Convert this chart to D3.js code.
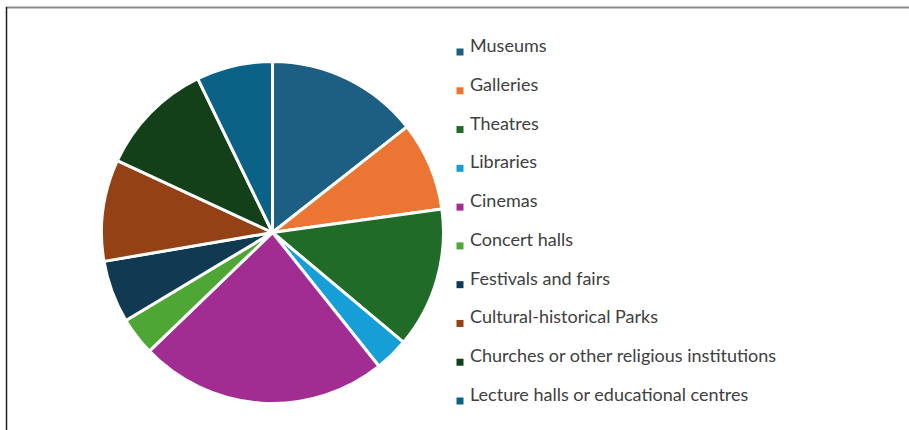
<!DOCTYPE html>
<html>
<head>
<meta charset="utf-8">
<script src="https://cdn.jsdelivr.net/npm/d3@7"></script>
<style>
  html, body { margin: 0; padding: 0; background: #fff; }
  svg { display: block; }
</style>
</head>
<body>
<svg id="chart" width="909" height="430"></svg>
<script>
// Share of visits by type of cultural venue (%)
const categories = [
  "Museums",
  "Galleries",
  "Theatres",
  "Libraries",
  "Cinemas",
  "Concert halls",
  "Festivals and fairs",
  "Cultural-historical Parks",
  "Churches or other religious institutions",
  "Lecture halls or educational centres"
];
const shares = [14.4, 8.4, 13.3, 3.2, 23.5, 3.6, 5.9, 9.6, 10.9, 7.2];
const palette = [
  "#1c5f83", "#ec7533", "#1f6b27", "#169fd7", "#a12d93",
  "#4ea734", "#0f3a51", "#934115", "#133f19", "#0a6286"
];

const svg = d3.select("#chart");

// frame: grey top rule, dark left rule
svg.append("line")
  .attr("x1", 6).attr("x2", 909).attr("y1", 7.5).attr("y2", 7.5)
  .attr("stroke", "#8c8c8c").attr("stroke-width", 2);
svg.append("line")
  .attr("x1", 6.5).attr("x2", 6.5).attr("y1", 7).attr("y2", 430)
  .attr("stroke", "#1e1e1e").attr("stroke-width", 1.5);

const data = categories.map((c, i) => ({ name: c, value: shares[i], color: palette[i] }));

const pie = d3.pie().value(d => d.value).sort(null);
const arc = d3.arc().innerRadius(0).outerRadius(171);

const g = svg.append("g").attr("transform", "translate(272.5,232.5)");
g.selectAll("path")
  .data(pie(data))
  .join("path")
  .attr("d", arc)
  .attr("fill", d => d.data.color)
  .attr("stroke", "#fff")
  .attr("stroke-width", 3)
  .attr("stroke-linejoin", "round");

// legend
const rowY = d3.scalePoint().domain(categories).range([52, 401]);
const legend = svg.append("g");
const items = legend.selectAll("g")
  .data(data)
  .join("g")
  .attr("transform", d => `translate(0,${rowY(d.name)})`);
items.append("rect")
  .attr("x", 456.5).attr("y", -3.5)
  .attr("width", 7).attr("height", 7)
  .attr("fill", d => d.color);
items.append("text")
  .attr("x", 470).attr("y", 0)
  .attr("font-family", "Lato, 'Open Sans', sans-serif")
  .attr("font-size", 18)
  .attr("fill", "#404040")
  .text(d => d.name);
</script>
</body>
</html>
